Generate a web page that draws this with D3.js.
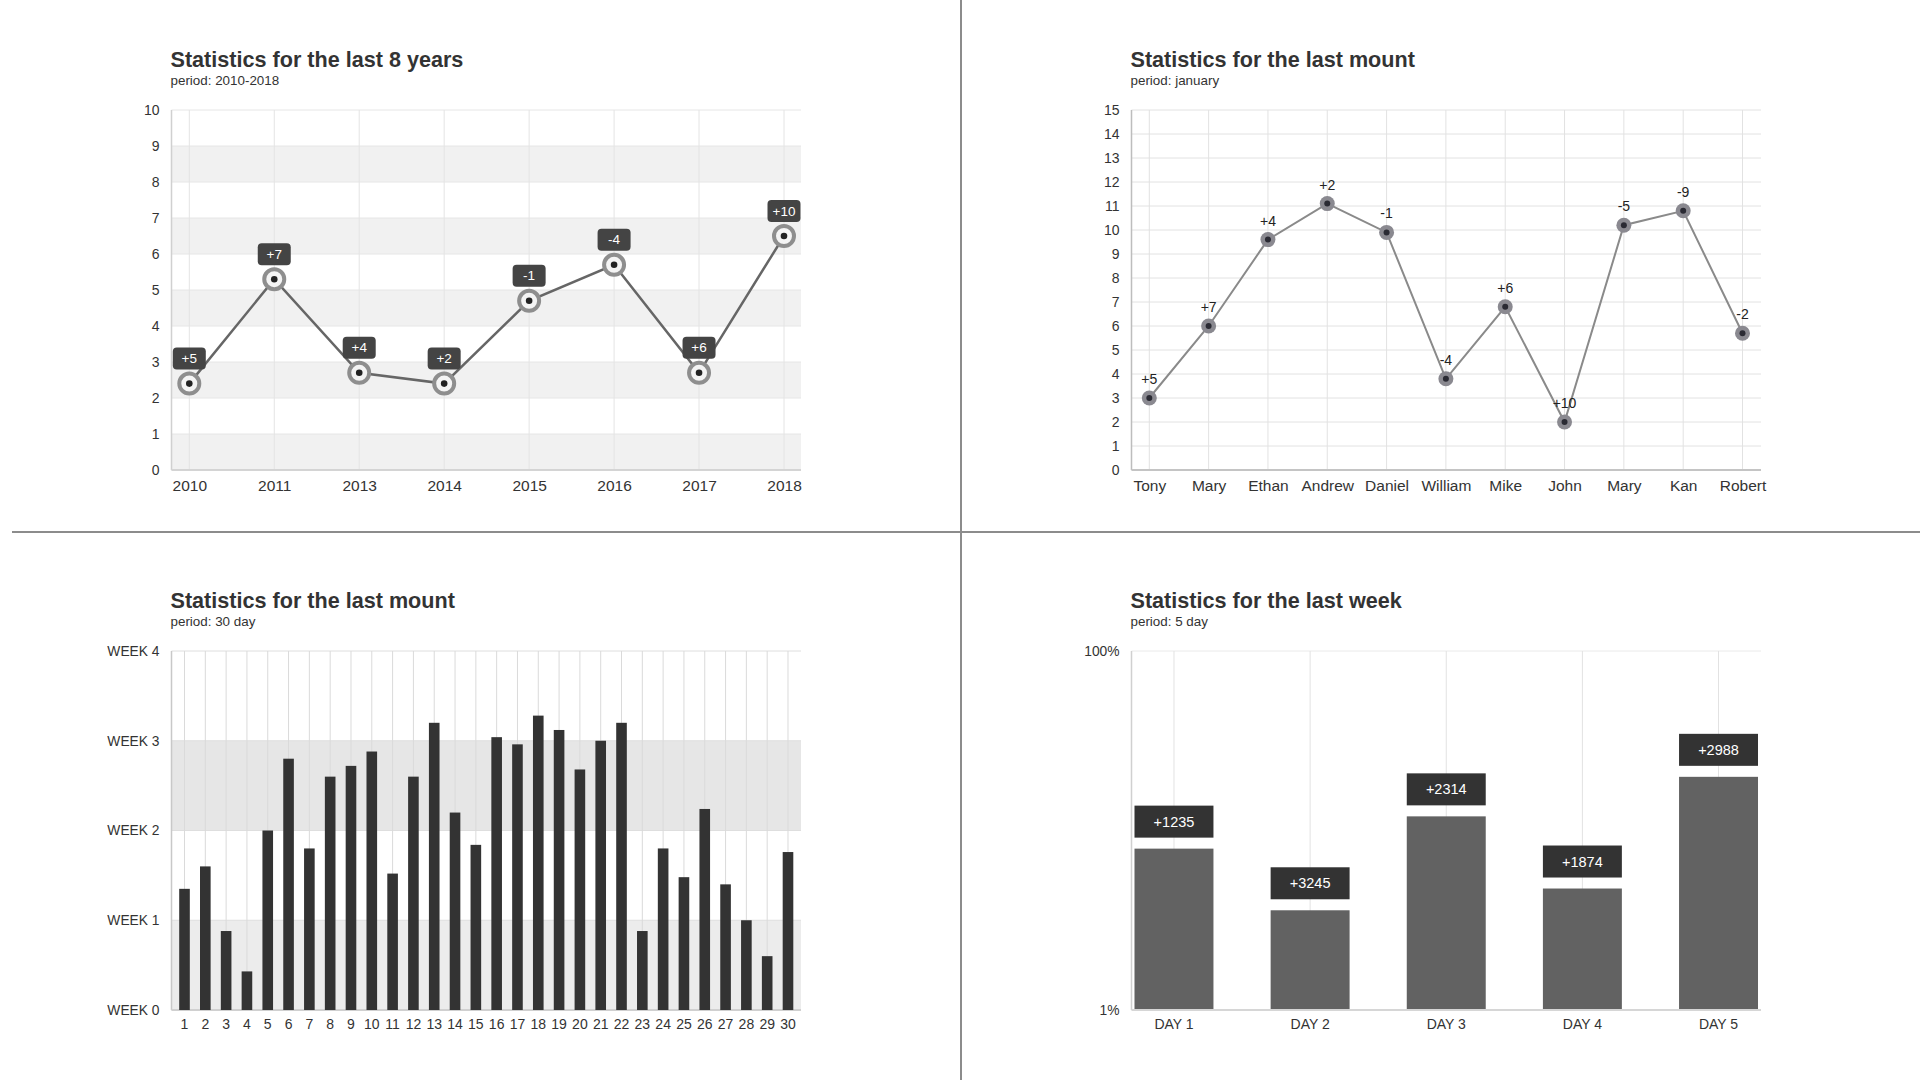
<!DOCTYPE html>
<html>
<head>
<meta charset="utf-8">
<script src="https://cdn.jsdelivr.net/npm/d3@7/dist/d3.min.js"></script>
<style>
  html, body { margin: 0; padding: 0; background: #fff; }
  svg { display: block; font-family: "Liberation Sans", Arial, Helvetica, sans-serif; }
</style>
</head>
<body>
<svg id="chart" width="1920" height="1080"></svg>
<script>
// ---------- DATA ----------
const yearCats = ["2010", "2011", "2013", "2014", "2015", "2016", "2017", "2018"];
const yearValues = [2.4, 5.3, 2.7, 2.4, 4.7, 5.7, 2.7, 6.5];
const yearLabels = ["+5", "+7", "+4", "+2", "-1", "-4", "+6", "+10"];
const yearTicks = [0, 1, 2, 3, 4, 5, 6, 7, 8, 9, 10];

const nameCats = ["Tony", "Mary", "Ethan", "Andrew", "Daniel", "William", "Mike", "John", "Mary", "Kan", "Robert"];
const nameValues = [3.0, 6.0, 9.6, 11.1, 9.9, 3.8, 6.8, 2.0, 10.2, 10.8, 5.7];
const nameLabels = ["+5", "+7", "+4", "+2", "-1", "-4", "+6", "+10", "-5", "-9", "-2"];
const nameTicks = [0, 1, 2, 3, 4, 5, 6, 7, 8, 9, 10, 11, 12, 13, 14, 15];

const dayCats = ["1","2","3","4","5","6","7","8","9","10","11","12","13","14","15","16","17","18","19","20","21","22","23","24","25","26","27","28","29","30"];
const dayValues = [1.35, 1.6, 0.88, 0.43, 2.0, 2.8, 1.8, 2.6, 2.72, 2.88, 1.52, 2.6, 3.2, 2.2, 1.84, 3.04, 2.96, 3.28, 3.12, 2.68, 3.0, 3.2, 0.88, 1.8, 1.48, 2.24, 1.4, 1.0, 0.6, 1.76];
const weekTicks = [0, 1, 2, 3, 4];
const weekTickLabels = ["WEEK 0", "WEEK 1", "WEEK 2", "WEEK 3", "WEEK 4"];

const weekCats = ["DAY 1", "DAY 2", "DAY 3", "DAY 4", "DAY 5"];
const weekValues = [45.5, 28.5, 54.4, 34.5, 65.3];
const weekLabels = ["+1235", "+3245", "+2314", "+1874", "+2988"];
const pctTicks = [1, 100];
const pctTickLabels = ["1%", "100%"];

const titles = [
  ["Statistics for the last 8 years", "period: 2010-2018"],
  ["Statistics for the last mount", "period: january"],
  ["Statistics for the last mount", "period: 30 day"],
  ["Statistics for the last week", "period: 5 day"]
];

// ---------- LAYOUT ----------
const svg = d3.select("#chart");
const TEXT = "#333";
const panels = [
  { x0: 171.5, x1: 801, y0: 110, y1: 470 },
  { x0: 1131.5, x1: 1761, y0: 110, y1: 470 },
  { x0: 171.5, x1: 801, y0: 651, y1: 1010 },
  { x0: 1131.5, x1: 1761, y0: 651, y1: 1010 }
];

// dividers
svg.append("line").attr("x1", 961).attr("x2", 961).attr("y1", 0).attr("y2", 1080)
  .attr("stroke", "#8c8c8c").attr("stroke-width", 2);
svg.append("line").attr("x1", 12).attr("x2", 1920).attr("y1", 532).attr("y2", 532)
  .attr("stroke", "#8c8c8c").attr("stroke-width", 2);

// titles
panels.forEach((p, i) => {
  svg.append("text").attr("x", p.x0 - 1).attr("y", p.y0 - 43)
    .attr("font-size", 21.6).attr("font-weight", "bold").attr("fill", TEXT)
    .text(titles[i][0]);
  svg.append("text").attr("x", p.x0 - 1).attr("y", p.y0 - 25)
    .attr("font-size", 13.4).attr("fill", TEXT)
    .text(titles[i][1]);
});

function yAxis(g, scale, tickVals, fmt, size) {
  const ax = d3.axisLeft(scale).tickValues(tickVals).tickSize(0).tickPadding(12);
  if (fmt) ax.tickFormat(fmt);
  g.call(ax);
  g.select(".domain").remove();
  g.selectAll("text").attr("font-size", size).attr("fill", TEXT).attr("font-family", null);
}
function xAxis(g, scale, size, pad) {
  g.call(d3.axisBottom(scale).tickSize(0).tickPadding(pad));
  g.select(".domain").remove();
  g.selectAll("text").attr("font-size", size).attr("fill", TEXT).attr("font-family", null);
}

// ---------- PANEL 1 ----------
(function () {
  const p = panels[0];
  const x = d3.scalePoint().domain(yearCats).range([p.x0 + 17.8, p.x1 - 17]);
  const y = d3.scaleLinear().domain([0, 10]).range([p.y1, p.y0]);
  const g = svg.append("g");
  [0, 2, 4, 6, 8].forEach(v => {
    g.append("rect").attr("x", p.x0).attr("width", p.x1 - p.x0)
      .attr("y", y(v + 1)).attr("height", y(v) - y(v + 1)).attr("fill", "#f1f1f1");
  });
  g.selectAll(".hg").data(yearTicks).join("line")
    .attr("x1", p.x0).attr("x2", p.x1).attr("y1", d => y(d)).attr("y2", d => y(d))
    .attr("stroke", "#e6e6e6").attr("stroke-width", 1);
  g.selectAll(".vg").data(yearCats).join("line")
    .attr("x1", d => x(d)).attr("x2", d => x(d)).attr("y1", p.y0).attr("y2", p.y1)
    .attr("stroke", "#e4e4e4").attr("stroke-width", 1);
  g.append("line").attr("x1", p.x0).attr("x2", p.x0).attr("y1", p.y0).attr("y2", p.y1)
    .attr("stroke", "#d0d0d0").attr("stroke-width", 1.5);
  g.append("line").attr("x1", p.x0).attr("x2", p.x1).attr("y1", p.y1).attr("y2", p.y1)
    .attr("stroke", "#d4d4d4").attr("stroke-width", 2);
  yAxis(svg.append("g").attr("transform", `translate(${p.x0},0)`), y, yearTicks, null, 14);
  xAxis(svg.append("g").attr("transform", `translate(0,${p.y1})`), x, 15.5, 10);
  const pts = yearCats.map((c, i) => [x(c), y(yearValues[i])]);
  g.append("path").attr("d", d3.line()(pts)).attr("fill", "none")
    .attr("stroke", "#666").attr("stroke-width", 2.5);
  pts.forEach((pt, i) => {
    g.append("circle").attr("cx", pt[0]).attr("cy", pt[1]).attr("r", 10)
      .attr("fill", "#f4f4f4").attr("stroke", "#8e8e8e").attr("stroke-width", 4);
    g.append("circle").attr("cx", pt[0]).attr("cy", pt[1]).attr("r", 3.3).attr("fill", "#222");
    g.append("rect").attr("x", pt[0] - 16.5).attr("y", pt[1] - 36).attr("width", 33).attr("height", 22)
      .attr("rx", 4).attr("fill", "#444");
    g.append("text").attr("x", pt[0]).attr("y", pt[1] - 20.5).attr("text-anchor", "middle")
      .attr("font-size", 13.5).attr("fill", "#fff").text(yearLabels[i]);
  });
})();

// ---------- PANEL 2 ----------
(function () {
  const p = panels[1];
  const idx = nameCats.map((d, i) => i);
  const x = d3.scalePoint().domain(idx).range([p.x0 + 17.8, p.x1 - 18.5]);
  const y = d3.scaleLinear().domain([0, 15]).range([p.y1, p.y0]);
  const g = svg.append("g");
  g.selectAll(".hg").data(nameTicks).join("line")
    .attr("x1", p.x0).attr("x2", p.x1).attr("y1", d => y(d)).attr("y2", d => y(d))
    .attr("stroke", "#e2e2e2").attr("stroke-width", 1);
  g.selectAll(".vg").data(idx).join("line")
    .attr("x1", d => x(d)).attr("x2", d => x(d)).attr("y1", p.y0).attr("y2", p.y1)
    .attr("stroke", "#e2e2e2").attr("stroke-width", 1);
  g.append("line").attr("x1", p.x0).attr("x2", p.x0).attr("y1", p.y0).attr("y2", p.y1)
    .attr("stroke", "#bdbdbd").attr("stroke-width", 1.5);
  g.append("line").attr("x1", p.x0).attr("x2", p.x1).attr("y1", p.y1).attr("y2", p.y1)
    .attr("stroke", "#c4c4c4").attr("stroke-width", 2);
  yAxis(svg.append("g").attr("transform", `translate(${p.x0},0)`), y, nameTicks, null, 14);
  const xg = svg.append("g").attr("transform", `translate(0,${p.y1})`);
  xg.call(d3.axisBottom(x).tickSize(0).tickPadding(10).tickFormat(i => nameCats[i]));
  xg.select(".domain").remove();
  xg.selectAll("text").attr("font-size", 15.5).attr("fill", TEXT).attr("font-family", null);
  const pts = idx.map(i => [x(i), y(nameValues[i])]);
  g.append("path").attr("d", d3.line()(pts)).attr("fill", "none")
    .attr("stroke", "#8a8a8a").attr("stroke-width", 2);
  pts.forEach((pt, i) => {
    g.append("circle").attr("cx", pt[0]).attr("cy", pt[1]).attr("r", 7.5).attr("fill", "#8a8990");
    g.append("circle").attr("cx", pt[0]).attr("cy", pt[1]).attr("r", 3).attr("fill", "#2a2a33");
    g.append("text").attr("x", pt[0]).attr("y", pt[1] - 14).attr("text-anchor", "middle")
      .attr("font-size", 14).attr("fill", "#222").text(nameLabels[i]);
  });
})();

// ---------- PANEL 3 ----------
(function () {
  const p = panels[2];
  const x = d3.scaleBand().domain(dayCats).range([p.x0, p.x1]).paddingInner(0.49).paddingOuter(0.37);
  const y = d3.scaleLinear().domain([0, 4]).range([p.y1, p.y0]);
  const g = svg.append("g");
  g.append("rect").attr("x", p.x0).attr("width", p.x1 - p.x0).attr("y", y(3)).attr("height", y(2) - y(3)).attr("fill", "#e6e6e6");
  g.append("rect").attr("x", p.x0).attr("width", p.x1 - p.x0).attr("y", y(1)).attr("height", y(0) - y(1)).attr("fill", "#ececec");
  g.selectAll(".hg").data(weekTicks).join("line")
    .attr("x1", p.x0).attr("x2", p.x1).attr("y1", d => y(d)).attr("y2", d => y(d))
    .attr("stroke", "#dedede").attr("stroke-width", 1);
  g.selectAll(".vg").data(dayCats).join("line")
    .attr("x1", d => x(d) + x.bandwidth() / 2).attr("x2", d => x(d) + x.bandwidth() / 2)
    .attr("y1", p.y0).attr("y2", p.y1).attr("stroke", "#dadada").attr("stroke-width", 1);
  g.append("line").attr("x1", p.x0).attr("x2", p.x0).attr("y1", p.y0).attr("y2", p.y1)
    .attr("stroke", "#c8c8c8").attr("stroke-width", 1.5);
  g.append("line").attr("x1", p.x0).attr("x2", p.x1).attr("y1", p.y1).attr("y2", p.y1)
    .attr("stroke", "#d0d0d0").attr("stroke-width", 2);
  g.selectAll(".bar").data(dayCats).join("rect")
    .attr("x", d => x(d)).attr("width", x.bandwidth())
    .attr("y", (d, i) => y(dayValues[i])).attr("height", (d, i) => p.y1 - y(dayValues[i]))
    .attr("fill", "#333");
  yAxis(svg.append("g").attr("transform", `translate(${p.x0},0)`), y, weekTicks, (d, i) => weekTickLabels[i], 13.8);
  xAxis(svg.append("g").attr("transform", `translate(0,${p.y1})`), x, 14, 9.5);
})();

// ---------- PANEL 4 ----------
(function () {
  const p = panels[3];
  const x = d3.scaleBand().domain(weekCats).range([p.x0, p.x1]).paddingInner(0.42).paddingOuter(0.022);
  const y = d3.scaleLinear().domain([1, 100]).range([p.y1, p.y0]);
  const g = svg.append("g");
  g.append("line").attr("x1", p.x0).attr("x2", p.x1).attr("y1", p.y0).attr("y2", p.y0)
    .attr("stroke", "#eaeaea").attr("stroke-width", 1);
  g.selectAll(".vg").data(weekCats).join("line")
    .attr("x1", d => x(d) + x.bandwidth() / 2).attr("x2", d => x(d) + x.bandwidth() / 2)
    .attr("y1", p.y0).attr("y2", p.y1).attr("stroke", "#e2e2e2").attr("stroke-width", 1);
  g.append("line").attr("x1", p.x0).attr("x2", p.x0).attr("y1", p.y0).attr("y2", p.y1)
    .attr("stroke", "#d0d0d0").attr("stroke-width", 1.5);
  g.append("line").attr("x1", p.x0).attr("x2", p.x1).attr("y1", p.y1).attr("y2", p.y1)
    .attr("stroke", "#d6d6d6").attr("stroke-width", 2);
  g.selectAll(".bar").data(weekCats).join("rect")
    .attr("x", d => x(d)).attr("width", x.bandwidth())
    .attr("y", (d, i) => y(weekValues[i])).attr("height", (d, i) => p.y1 - 1 - y(weekValues[i]))
    .attr("fill", "#626262");
  weekCats.forEach((c, i) => {
    const top = y(weekValues[i]);
    g.append("rect").attr("x", x(c)).attr("width", x.bandwidth()).attr("y", top - 43).attr("height", 32)
      .attr("fill", "#333");
    g.append("text").attr("x", x(c) + x.bandwidth() / 2).attr("y", top - 22).attr("text-anchor", "middle")
      .attr("font-size", 14.5).attr("fill", "#fff").text(weekLabels[i]);
  });
  yAxis(svg.append("g").attr("transform", `translate(${p.x0},0)`), y, pctTicks, (d, i) => pctTickLabels[i], 13.8);
  xAxis(svg.append("g").attr("transform", `translate(0,${p.y1})`), x, 14, 9.5);
})();
</script>
</body>
</html>
